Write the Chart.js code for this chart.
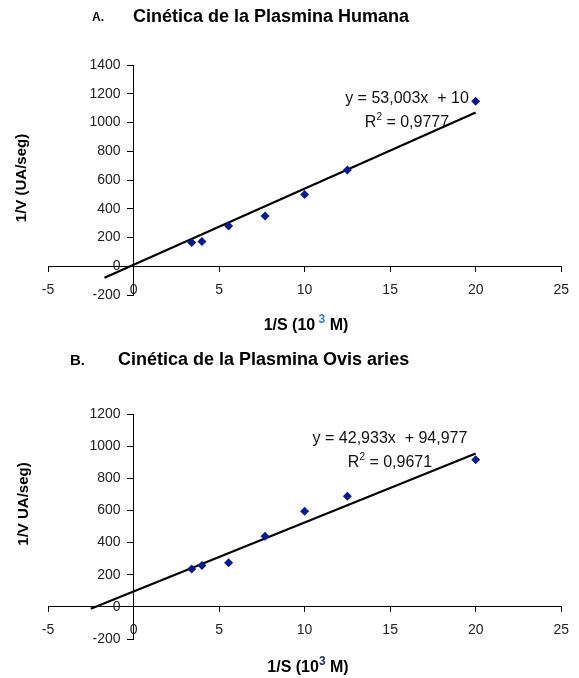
<!DOCTYPE html>
<html>
<head>
<meta charset="utf-8">
<script src="https://cdn.jsdelivr.net/npm/chart.js@4.4.1/dist/chart.umd.min.js"></script>
<style>
  html, body { margin: 0; padding: 0; background: #fff; }
  canvas { display: block; }
</style>
</head>
<body>
<canvas id="chartA" width="579" height="339"></canvas>
<canvas id="chartB" width="579" height="339"></canvas>
<script>
// 1/S (10^3 M) and 1/V values
const invS_A = [3.4, 4, 5.56, 7.69, 10, 12.5, 20];
const invV_A = [165, 172, 280, 350, 500, 670, 1148];
const trendX_A = [-1.7, 20];
const trendY_A = [-80, 1070];

const invS_B = [3.4, 4, 5.56, 7.69, 10, 12.5, 20];
const invV_B = [236, 258, 275, 440, 595, 688, 915];
const trendX_B = [-2.5, 20];
const trendY_B = [-12, 954];

const xTicks = [-5, 0, 5, 10, 15, 20, 25];
const yTicksA = [-200, 0, 200, 400, 600, 800, 1000, 1200, 1400];
const yTicksB = [-200, 0, 200, 400, 600, 800, 1000, 1200];

const FONT = 'Arial, "Liberation Sans", sans-serif';

const toPoints = (xs, ys) => xs.map((x, i) => ({ x, y: ys[i] }));

// draws titles, axis titles and the trendline equation
const textPlugin = {
  id: 'texts',
  afterDraw(chart, args, opts) {
    const ctx = chart.ctx;
    ctx.save();
    ctx.fillStyle = '#000';
    ctx.textBaseline = 'middle';

    // title
    ctx.textAlign = 'left';
    ctx.font = `bold ${opts.tagSize}px ${FONT}`;
    ctx.fillText(opts.tag, opts.tagX, opts.titleY + 1);
    ctx.font = `bold 18px ${FONT}`;
    ctx.fillText(opts.title, opts.titleX, opts.titleY);

    // y axis title
    ctx.save();
    ctx.translate(opts.yTitleX, opts.yTitleY);
    ctx.rotate(-Math.PI / 2);
    ctx.textAlign = 'center';
    ctx.font = `bold 15px ${FONT}`;
    ctx.fillText(opts.yTitle, 0, 0);
    ctx.restore();

    // x axis title with superscript
    const parts = [
      { t: '1/S (10', f: `bold 16px ${FONT}`, dy: 0, c: '#000' },
      { t: opts.supGap + '3', f: `bold 12px ${FONT}`, dy: -6, c: opts.supColor },
      { t: ' M)', f: `bold 16px ${FONT}`, dy: 0, c: '#000' }
    ];
    let w = 0;
    parts.forEach(p => { ctx.font = p.f; w += ctx.measureText(p.t).width; });
    let x = opts.xTitleX - w / 2;
    ctx.textAlign = 'left';
    parts.forEach(p => {
      ctx.font = p.f;
      ctx.fillStyle = p.c;
      ctx.fillText(p.t, x, opts.xTitleY + p.dy);
      x += ctx.measureText(p.t).width;
    });

    // equation
    ctx.fillStyle = '#111';
    ctx.font = `16px ${FONT}`;
    ctx.textAlign = 'center';
    ctx.fillText(opts.eq, opts.eqX, opts.eqY);
    const r1 = 'R', r2 = '2', r3 = ' = ' + opts.r2;
    const f1 = `16px ${FONT}`, f2 = `10px ${FONT}`;
    ctx.font = f1; const w1 = ctx.measureText(r1).width, w3 = ctx.measureText(r3).width;
    ctx.font = f2; const w2 = ctx.measureText(r2).width;
    let rx = opts.eqX - (w1 + w2 + w3) / 2;
    ctx.textAlign = 'left';
    ctx.font = f1; ctx.fillText(r1, rx, opts.eqY + 24); rx += w1;
    ctx.font = f2; ctx.fillText(r2, rx, opts.eqY + 18); rx += w2;
    ctx.font = f1; ctx.fillText(r3, rx, opts.eqY + 24);
    ctx.restore();
  }
};

// an axis placed at x = 0 gets its labels glued to the line; push them left
function padYLabels(scale) {
  if (scale._padded) return;
  scale._padded = true;
  const orig = scale._computeLabelItems.bind(scale);
  scale._computeLabelItems = (area) => orig(area).map(item => {
    item.options.translation = [item.options.translation[0] - 13, item.options.translation[1]];
    return item;
  });
}

function buildChart(id, sx, sy, tx, ty, yTicks, padding, texts) {
  const tickFont = { family: FONT, size: 14 };
  return new Chart(document.getElementById(id), {
    type: 'scatter',
    data: {
      datasets: [
        {
          data: toPoints(sx, sy),
          pointStyle: 'rectRot',
          pointRadius: 4.5,
          backgroundColor: '#0a1a8c',
          borderColor: '#0a1a8c',
          borderWidth: 0,
          order: 1
        },
        {
          type: 'line',
          data: toPoints(tx, ty),
          borderColor: '#000',
          borderWidth: 2.2,
          pointRadius: 0,
          fill: false,
          order: 2
        }
      ]
    },
    options: {
      responsive: false,
      animation: false,
      layout: { padding },
      plugins: { legend: { display: false }, tooltip: { enabled: false }, texts },
      scales: {
        x: {
          type: 'linear',
          min: xTicks[0],
          max: xTicks[xTicks.length - 1],
          position: { y: 0 },
          afterBuildTicks: (s) => { s.ticks = xTicks.map(v => ({ value: v })); },
          ticks: { color: '#222', font: tickFont, padding: 10, callback: v => String(v) },
          grid: { drawOnChartArea: false, tickLength: 5, color: '#000' },
          border: { color: '#000', width: 1 }
        },
        y: {
          type: 'linear',
          min: yTicks[0],
          max: yTicks[yTicks.length - 1],
          position: { x: 0 },
          afterBuildTicks: (s) => { s.ticks = yTicks.map(v => ({ value: v })); },
          afterUpdate: padYLabels,
          ticks: { color: '#222', font: tickFont, callback: v => String(v) },
          grid: { drawOnChartArea: false, tickLength: 6, color: '#000' },
          border: { color: '#000', width: 1 }
        }
      }
    },
    plugins: [textPlugin]
  });
}

buildChart('chartA', invS_A, invV_A, trendX_A, trendY_A, yTicksA,
  { left: 48, right: 13, top: 65, bottom: 44 },
  {
    tag: 'A.', tagSize: 12, tagX: 92, title: 'Cinética de la Plasmina Humana', titleX: 133, titleY: 17,
    yTitle: '1/V (UA/seg)', yTitleX: 22, yTitleY: 178,
    xTitleX: 306, xTitleY: 326, supGap: ' ', supColor: '#2a7fd4',
    eq: 'y = 53,003x  + 10', r2: '0,9777', eqX: 407, eqY: 99
  });

buildChart('chartB', invS_B, invV_B, trendX_B, trendY_B, yTicksB,
  { left: 48, right: 13, top: 75, bottom: 39 },
  {
    tag: 'B.', tagSize: 15, tagX: 70, title: 'Cinética de la Plasmina Ovis aries', titleX: 118, titleY: 21,
    yTitle: '1/V UA/seg)', yTitleX: 24, yTitleY: 165,
    xTitleX: 308, xTitleY: 329, supGap: '', supColor: '#1a2a70',
    eq: 'y = 42,933x  + 94,977', r2: '0,9671', eqX: 390, eqY: 100
  });
</script>
</body>
</html>
